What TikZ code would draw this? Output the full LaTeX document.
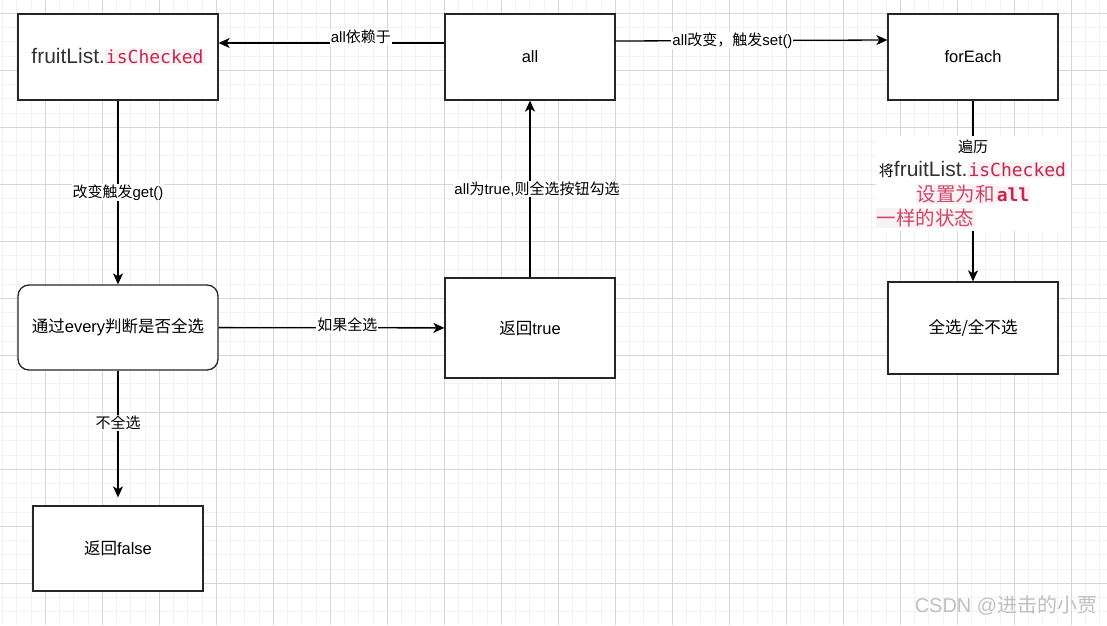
\documentclass[tikz,border=0pt]{standalone}
\usepackage{fontspec}
\setmainfont{Liberation Sans}
\newfontfamily\cjk{Noto Sans CJK SC}
\newfontfamily\codefont{DejaVu Sans Mono}
\usetikzlibrary{arrows.meta,positioning}
\definecolor{CodeRed}{RGB}{199,37,78}
\definecolor{CodeBg}{RGB}{249,242,244}
\definecolor{InkGray}{RGB}{51,51,51}
\definecolor{GridMinor}{RGB}{242,242,242}
\definecolor{GridMajor}{RGB}{214,214,214}
\newcommand{\zh}[1]{{\cjk #1}}
\newcommand{\inlinecode}[1]{{\setlength{\fboxsep}{1pt}\colorbox{CodeBg}{\codefont\color{CodeRed}#1}}}
\newcommand{\pinkzh}[1]{{\setlength{\fboxsep}{1pt}\colorbox{CodeBg}{\cjk\color{CodeRed!85}#1}}}
\tikzset{
  box/.style={draw=black!85,line width=1.3pt,fill=white,minimum width=170pt,
    minimum height=86pt,inner sep=2pt,font=\fontsize{16.5}{20}\selectfont},
  flow/.style={line width=1.3pt,->},
  tag/.style={fill=white,inner sep=1pt,font=\fontsize{15}{18}\selectfont}
}

\begin{document}
\begin{tikzpicture}[x=1pt,y=-1pt,>={Stealth[length=11pt,width=10pt,inset=3pt]}]
  \useasboundingbox (0,0) rectangle (1107,625);
  % grid
  \foreach \k in {0,...,77}
    \draw[GridMinor,line width=.9pt] ({2.55+14.25*\k},0) -- ++(0,625);
  \foreach \k in {0,...,42}
    \draw[GridMinor,line width=.9pt] (0,{13.3+14.25*\k}) -- ++(1107,0);
  \foreach \k in {0,...,18}
    \draw[GridMajor,line width=.9pt] ({45.3+57*\k},0) -- ++(0,625);
  \foreach \k in {0,...,10}
    \draw[GridMajor,line width=.9pt] (0,{13.3+57*\k}) -- ++(1107,0);

  % boxes
  \node[box,minimum width=200pt] (checked) at (118,57)
    {{\fontsize{21}{24}\selectfont\color{InkGray}fruitList.}\inlinecode{\fontsize{18}{22}\selectfont isChecked}};
  \node[box] (all) at (530,57) {all};
  \node[box] (each) at (973,57) {forEach};
  \node[box,minimum width=200pt,minimum height=85pt,rounded corners=11pt] (every) at (118,327.5)
    {\zh{通过}every\zh{判断是否全选}};
  \node[box,minimum height=100pt] (true) at (530,328) {\zh{返回}true};
  \node[box,minimum height=92pt] (toggle) at (973,328) {\zh{全选/全不选}};
  \node[box,minimum height=85pt] (false) at (118,548.5) {\zh{返回}false};

  % connectors
  \draw[flow] ([yshift=14pt]all.west) -- node[tag,pos=.37,yshift=6pt]{all\zh{依赖于}} ([yshift=14pt]checked.east);
  \draw[flow] ([yshift=16pt]all.east) -- node[tag,pos=.43]{all\zh{改变，触发}set()} ([yshift=17pt]each.west);
  \draw[flow] (checked) -- node[tag]{\zh{改变触发}get()} (every);
  \draw[flow] (every) -- node[tag,pos=.57,yshift=3pt]{\zh{如果全选}} (true);
  \draw[flow] (true) -- node[tag,xshift=7pt]{all\zh{为}true,\zh{则全选按钮勾选}} (all);
  \draw[flow,shorten >=8pt] (every) -- node[tag,pos=.39]{\zh{不全选}} (false);
  \draw[flow] (each) -- node[fill=white,inner sep=0pt,pos=.46,text width=195pt,align=center,
      minimum height=95pt,font=\fontsize{15}{24.5}\selectfont]
    {\zh{遍历}\\
     \zh{将}{\fontsize{21}{24}\selectfont\color{InkGray}fruitList.}\inlinecode{\fontsize{18}{22}\selectfont isChecked}\\
     \pinkzh{\fontsize{19.5}{24}\selectfont 设置为和}\inlinecode{\fontsize{18}{22}\selectfont\bfseries all}\\
     \makebox[195pt][l]{\pinkzh{\fontsize{19.5}{24}\selectfont 一样的状态}}} (toggle);

  % watermark
  \node[text=black!25,font=\fontsize{20}{24}\selectfont] (mark) at (1006,605) {CSDN @\zh{进击的小贾}};
\end{tikzpicture}
\end{document}
